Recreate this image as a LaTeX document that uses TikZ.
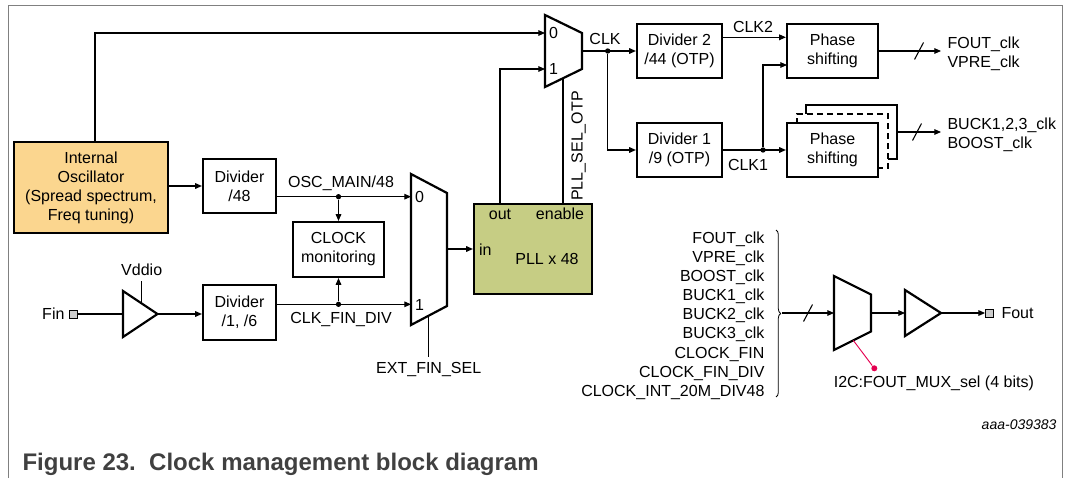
\documentclass[tikz,border=0pt]{standalone}
\usepackage{fontspec}
\setmainfont{Liberation Sans}
\usetikzlibrary{arrows.meta,decorations.pathreplacing}

\definecolor{oscfill}{RGB}{251,214,143}
\definecolor{pllfill}{RGB}{198,205,132}
\definecolor{pingray}{RGB}{204,204,204}
\definecolor{framegray}{RGB}{128,128,128}
\definecolor{selred}{RGB}{228,0,80}
\definecolor{captiongray}{RGB}{64,64,64}

\newcommand{\dgfont}{\fontsize{12}{14.25}\selectfont}

\tikzset{every picture/.style={line width=0.8pt}}
\tikzset{
  blk/.style={draw,line width=1.65pt,fill=white,align=center,inner sep=0pt,font=\dgfont},
  lbl/.style={inner sep=0pt,font=\dgfont},
  thk/.style={line width=1.65pt},
  jdot/.style={circle,fill,inner sep=0pt,minimum size=4pt},
  pinsq/.style={draw,fill=pingray,line width=0.6pt,inner sep=0pt,minimum size=6pt},
}

\begin{document}
\begin{tikzpicture}[x=0.75pt,y=0.75pt,yscale=-1,>={Triangle[length=5pt,width=4.2pt]}]
\useasboundingbox (0,0) rectangle (1069,478);

%Frame
\draw[framegray,line width=0.75pt] (8.5,478) -- (8.5,5.5) -- (1062,5.5) -- (1062,478);

%Shape: Rectangle blocks
\node[blk,fill=oscfill,minimum width=115.5pt,minimum height=68.25pt] (osc) at (91,187.5) {Internal\\Oscillator\\(Spread spectrum,\\Freq tuning)};
\node[blk,minimum width=54.75pt,minimum height=40.5pt] (div48) at (239.5,186) {Divider\\/48};
\node[blk,minimum width=68.25pt,minimum height=41.25pt] (clkmon) at (338.5,249.5) {CLOCK\\monitoring};
\node[blk,minimum width=54.75pt,minimum height=41.25pt] (divfin) at (239.5,312.5) {Divider\\/1, /6};
\node[blk,fill=pllfill,minimum width=88.5pt,minimum height=67.5pt] (pll) at (533,249) {};
\node[blk,minimum width=63.75pt,minimum height=40.5pt] (div2) at (679.5,51) {Divider 2\\/44 (OTP)};
\node[blk,minimum width=63.75pt,minimum height=40.5pt] (div1) at (679.5,150) {Divider 1\\/9 (OTP)};
\node[blk,minimum width=68.25pt,minimum height=40.5pt] (ps1) at (832.5,51) {Phase\\shifting};
\node[blk,minimum width=68.25pt,minimum height=40.5pt] (ps2back) at (851.5,132) {};
\node[blk,dash pattern=on 4.5pt off 3pt,minimum width=68.25pt,minimum height=40.5pt] (ps2mid) at (842.5,141) {};
\node[blk,minimum width=68.25pt,minimum height=40.5pt] (ps2) at (832.5,150) {Phase\\shifting};

% Text Node: PLL ports
\draw (500,219.7) node[lbl,anchor=base] (pllout) {out};
\draw (560,219.7) node[lbl,anchor=base] (pllen) {enable};
\draw (478.5,255) node[lbl,anchor=base west] (pllin) {in};
\draw (547,264.7) node[lbl,anchor=base] (pllname) {PLL x 48};

%Shape: Mux (PLL select)
\draw[thk] (545,15) -- (582,33) -- (582,69) -- (545,87) -- cycle;
\coordinate (m2in0) at (545,33);
\coordinate (m2in1) at (545,69);
\coordinate (m2out) at (582,51);
\coordinate (m2sel) at (563,78.2);
\draw (553.5,38.7) node[lbl,anchor=base] (m2zero) {0};
\draw (553.5,74.7) node[lbl,anchor=base] (m2one) {1};

%Shape: Mux (Fin select)
\draw[thk] (411,174) -- (447,193) -- (447,306) -- (411,325) -- cycle;
\coordinate (m1in0) at (411,196.7);
\coordinate (m1in1) at (411,304.3);
\coordinate (m1out) at (447,249);
\coordinate (m1sel) at (428.7,315.7);
\coordinate (m1selend) at (428.7,356.7);
\draw (419.5,202.4) node[lbl,anchor=base] (m1zero) {0};
\draw (419.5,310) node[lbl,anchor=base] (m1one) {1};

%Shape: Mux (Fout select)
\draw[thk] (834,276) -- (871,294.5) -- (871,331.5) -- (834,350) -- cycle;
\coordinate (m3in) at (834,313);
\coordinate (m3out) at (871,313);
\coordinate (m3sel) at (853.3,340.4);

%Shape: Buffers
\draw[thk] (123,291) -- (157.5,314) -- (123,337) -- cycle;
\coordinate (b1in) at (123,314);
\coordinate (b1out) at (157.5,314);
\coordinate (b1vdd) at (141.7,303.5);
\coordinate (vddtop) at (141.7,280.7);
\draw[thk] (905,290) -- (941,313) -- (905,336) -- cycle;
\coordinate (b2in) at (905,313);
\coordinate (b2out) at (941,313);

%Pins
\node[pinsq] (finpin) at (73.5,314) {};
\node[pinsq] (foutpin) at (989.5,313) {};

%Connectors: top part
\draw[->] ([xshift=3pt]osc.north) |- (m2in0);
\draw[->] (pllout.north |- pll.north) |- (m2in1);
\draw (m2sel) -- (m2sel |- pll.north);
\draw[->] (m2out) -- (div2.west);
\node[jdot] (clkdot) at (607.7,51) {};
\draw[->] (clkdot) |- (div1.west);
\coordinate (clk2y) at (722,37.3);
\draw[->] (div2.east |- clk2y) -- (ps1.west |- clk2y);
\draw[->] (div1.east) -- (ps2.west);
\node[jdot] (clk1dot) at (763,150) {};
\coordinate (ps1in2) at (787,65);
\draw[->] (clk1dot) |- (ps1in2);
\coordinate (fouttip) at (941,51);
\draw[->] (ps1.east) -- (fouttip);
\draw (914.5,59.5) -- (923.5,42.5);
\coordinate (bucktip) at (941,132);
\draw[->] (ps2back.east |- bucktip) -- (bucktip);
\draw (912.5,140.5) -- (921.5,123.5);

%Connectors: left part
\draw[->] (osc.east |- div48.west) -- (div48.west);
\draw[->] (div48.east |- m1in0) -- (m1in0);
\node[jdot] (oscdot) at (338.5,196.7) {};
\draw[->] (oscdot) -- (clkmon.north);
\draw (finpin.east) -- (b1in);
\draw[->] (b1out) -- (divfin.west |- b1out);
\draw (b1vdd) -- (vddtop);
\draw[->] (divfin.east |- m1in1) -- (m1in1);
\node[jdot] (findot) at (338.5,304.3) {};
\draw[->] (findot) -- (clkmon.south);
\draw[->] (m1out) -- (pll.west |- m1out);
\draw (m1sel) -- (m1selend);

%Connectors: Fout part
\draw[line width=0.6pt,decorate,decoration={brace,amplitude=3.5pt}] (776,230) -- (776,397);
\coordinate (brtip) at (782,313);
\draw[->] (brtip) -- (m3in);
\draw (803.5,321.5) -- (812.5,304.5);
\draw[->] (m3out) -- (b2in);
\draw[->] (b2out) -- (foutpin.west);
\node[jdot,fill=selred,minimum size=4.5pt] (i2cdot) at (874.3,368.3) {};
\draw[selred,line width=0.7pt] (m3sel) -- (i2cdot);

% Text Node: labels
\draw (341,187.7) node[lbl,anchor=base] (oscmainlbl) {OSC\_MAIN/48};
\draw (341,323.7) node[lbl,anchor=base] (findivlbl) {CLK\_FIN\_DIV};
\draw (605,44.7) node[lbl,anchor=base] (clklbl) {CLK};
\draw (753,32.7) node[lbl,anchor=base] (clk2lbl) {CLK2};
\draw (748,170.7) node[lbl,anchor=base] (clk1lbl) {CLK1};
\draw (141.7,275.7) node[lbl,anchor=base] (vddlbl) {Vddio};
\draw (428.7,373) node[lbl,anchor=base] (extsellbl) {EXT\_FIN\_SEL};
\draw (582.7,146) node[lbl,anchor=base,rotate=90] (pllsellbl) {PLL\_SEL\_OTP};
\draw (65,319.7) node[lbl,anchor=base east] (finlbl) {Fin};
\draw (1001,318.7) node[lbl,anchor=base west] (foutlbl) {Fout};
\draw (947,36) node[lbl,anchor=north west,align=left] (foutvprelbl) {FOUT\_clk\\VPRE\_clk};
\draw (947,117) node[lbl,anchor=north west,align=left] (bucklbl) {BUCK1,2,3\_clk\\BOOST\_clk};
\draw (765,231.5) node[lbl,anchor=north east,align=right,font=\fontsize{12}{14.3}\selectfont] (srclist) {FOUT\_clk\\VPRE\_clk\\BOOST\_clk\\BUCK1\_clk\\BUCK2\_clk\\BUCK3\_clk\\CLOCK\_FIN\\CLOCK\_FIN\_DIV\\CLOCK\_INT\_20M\_DIV48};
\draw (833.3,387.4) node[lbl,anchor=base west] (i2clbl) {I2C:FOUT\_MUX\_sel (4 bits)};
\draw (1057,429) node[anchor=base east,inner sep=0pt,font=\fontsize{10.5}{12}\selectfont\itshape] (docid) {aaa-039383};
\draw (22,470) node[anchor=base west,inner sep=0pt,text=captiongray,font=\fontsize{18}{21}\selectfont\bfseries] (caption) {Figure 23.~~Clock management block diagram};
\end{tikzpicture}
\end{document}
